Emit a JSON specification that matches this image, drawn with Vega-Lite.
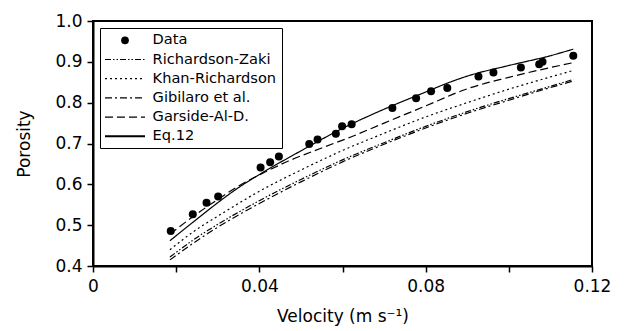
{
  "$schema": "https://vega.github.io/schema/vega-lite/v6.json",
  "width": 499,
  "height": 245,
  "autosize": "none",
  "padding": {"left": 93, "top": 21, "right": 34, "bottom": 65},
  "background": "white",
  "config": {
    "view": {"stroke": "black", "strokeWidth": 2},
    "font": "DejaVu Sans",
    "axis": {
      "domainColor": "black", "domainWidth": 2, "tickColor": "black", "tickWidth": 1.5, "tickSize": 6,
      "grid": false, "labelColor": "black", "labelFont": "DejaVu Sans", "labelFontSize": 17,
      "titleFont": "DejaVu Sans", "titleFontSize": 17, "titleFontWeight": "normal", "titleColor": "black"
    },
    "legend": {"labelFont": "DejaVu Sans"}
  },
  "datasets": {
    "points": [
      {"velocity": 0.0187, "porosity": 0.486},
      {"velocity": 0.0240, "porosity": 0.527},
      {"velocity": 0.0273, "porosity": 0.555},
      {"velocity": 0.0301, "porosity": 0.570},
      {"velocity": 0.0403, "porosity": 0.641},
      {"velocity": 0.0426, "porosity": 0.654},
      {"velocity": 0.0447, "porosity": 0.668},
      {"velocity": 0.0520, "porosity": 0.699},
      {"velocity": 0.0540, "porosity": 0.710},
      {"velocity": 0.0584, "porosity": 0.724},
      {"velocity": 0.0599, "porosity": 0.742},
      {"velocity": 0.0622, "porosity": 0.747},
      {"velocity": 0.0720, "porosity": 0.787},
      {"velocity": 0.0777, "porosity": 0.811},
      {"velocity": 0.0813, "porosity": 0.828},
      {"velocity": 0.0852, "porosity": 0.836},
      {"velocity": 0.0927, "porosity": 0.864},
      {"velocity": 0.0963, "porosity": 0.874},
      {"velocity": 0.1029, "porosity": 0.886},
      {"velocity": 0.1073, "porosity": 0.894},
      {"velocity": 0.1081, "porosity": 0.900},
      {"velocity": 0.1155, "porosity": 0.915}
    ],
    "curves": [
      {"series": "Eq.12", "velocity": 0.0185, "porosity": 0.462},
      {"series": "Eq.12", "velocity": 0.025, "porosity": 0.515},
      {"series": "Eq.12", "velocity": 0.03, "porosity": 0.555},
      {"series": "Eq.12", "velocity": 0.035, "porosity": 0.592},
      {"series": "Eq.12", "velocity": 0.04, "porosity": 0.624},
      {"series": "Eq.12", "velocity": 0.05, "porosity": 0.682},
      {"series": "Eq.12", "velocity": 0.06, "porosity": 0.737},
      {"series": "Eq.12", "velocity": 0.07, "porosity": 0.784},
      {"series": "Eq.12", "velocity": 0.08, "porosity": 0.826},
      {"series": "Eq.12", "velocity": 0.085, "porosity": 0.847},
      {"series": "Eq.12", "velocity": 0.09, "porosity": 0.865},
      {"series": "Eq.12", "velocity": 0.10, "porosity": 0.891},
      {"series": "Eq.12", "velocity": 0.11, "porosity": 0.915},
      {"series": "Eq.12", "velocity": 0.1155, "porosity": 0.931},
      {"series": "Garside-Al-D.", "velocity": 0.0185, "porosity": 0.478},
      {"series": "Garside-Al-D.", "velocity": 0.025, "porosity": 0.528},
      {"series": "Garside-Al-D.", "velocity": 0.03, "porosity": 0.563},
      {"series": "Garside-Al-D.", "velocity": 0.035, "porosity": 0.596},
      {"series": "Garside-Al-D.", "velocity": 0.04, "porosity": 0.623},
      {"series": "Garside-Al-D.", "velocity": 0.047, "porosity": 0.657},
      {"series": "Garside-Al-D.", "velocity": 0.055, "porosity": 0.689},
      {"series": "Garside-Al-D.", "velocity": 0.062, "porosity": 0.716},
      {"series": "Garside-Al-D.", "velocity": 0.07, "porosity": 0.750},
      {"series": "Garside-Al-D.", "velocity": 0.08, "porosity": 0.792},
      {"series": "Garside-Al-D.", "velocity": 0.09, "porosity": 0.834},
      {"series": "Garside-Al-D.", "velocity": 0.10, "porosity": 0.862},
      {"series": "Garside-Al-D.", "velocity": 0.11, "porosity": 0.886},
      {"series": "Garside-Al-D.", "velocity": 0.1155, "porosity": 0.898},
      {"series": "Khan-Richardson", "velocity": 0.0185, "porosity": 0.440},
      {"series": "Khan-Richardson", "velocity": 0.025, "porosity": 0.490},
      {"series": "Khan-Richardson", "velocity": 0.03, "porosity": 0.522},
      {"series": "Khan-Richardson", "velocity": 0.04, "porosity": 0.583},
      {"series": "Khan-Richardson", "velocity": 0.05, "porosity": 0.635},
      {"series": "Khan-Richardson", "velocity": 0.06, "porosity": 0.683},
      {"series": "Khan-Richardson", "velocity": 0.07, "porosity": 0.725},
      {"series": "Khan-Richardson", "velocity": 0.08, "porosity": 0.765},
      {"series": "Khan-Richardson", "velocity": 0.09, "porosity": 0.800},
      {"series": "Khan-Richardson", "velocity": 0.10, "porosity": 0.833},
      {"series": "Khan-Richardson", "velocity": 0.11, "porosity": 0.863},
      {"series": "Khan-Richardson", "velocity": 0.1155, "porosity": 0.879},
      {"series": "Richardson-Zaki", "velocity": 0.0185, "porosity": 0.422},
      {"series": "Richardson-Zaki", "velocity": 0.025, "porosity": 0.470},
      {"series": "Richardson-Zaki", "velocity": 0.03, "porosity": 0.502},
      {"series": "Richardson-Zaki", "velocity": 0.04, "porosity": 0.560},
      {"series": "Richardson-Zaki", "velocity": 0.05, "porosity": 0.612},
      {"series": "Richardson-Zaki", "velocity": 0.06, "porosity": 0.660},
      {"series": "Richardson-Zaki", "velocity": 0.07, "porosity": 0.702},
      {"series": "Richardson-Zaki", "velocity": 0.08, "porosity": 0.742},
      {"series": "Richardson-Zaki", "velocity": 0.09, "porosity": 0.778},
      {"series": "Richardson-Zaki", "velocity": 0.10, "porosity": 0.810},
      {"series": "Richardson-Zaki", "velocity": 0.11, "porosity": 0.840},
      {"series": "Richardson-Zaki", "velocity": 0.1155, "porosity": 0.857},
      {"series": "Gibilaro et al.", "velocity": 0.0185, "porosity": 0.415},
      {"series": "Gibilaro et al.", "velocity": 0.025, "porosity": 0.462},
      {"series": "Gibilaro et al.", "velocity": 0.03, "porosity": 0.495},
      {"series": "Gibilaro et al.", "velocity": 0.04, "porosity": 0.553},
      {"series": "Gibilaro et al.", "velocity": 0.05, "porosity": 0.606},
      {"series": "Gibilaro et al.", "velocity": 0.06, "porosity": 0.655},
      {"series": "Gibilaro et al.", "velocity": 0.07, "porosity": 0.698},
      {"series": "Gibilaro et al.", "velocity": 0.08, "porosity": 0.738},
      {"series": "Gibilaro et al.", "velocity": 0.09, "porosity": 0.774},
      {"series": "Gibilaro et al.", "velocity": 0.10, "porosity": 0.806},
      {"series": "Gibilaro et al.", "velocity": 0.11, "porosity": 0.837},
      {"series": "Gibilaro et al.", "velocity": 0.1155, "porosity": 0.853}
    ]
  },
  "layer": [
    {
      "data": {"name": "curves"},
      "mark": {"type": "line", "color": "black", "interpolate": "monotone", "strokeWidth": 1.2},
      "encoding": {
        "x": {
          "field": "velocity", "type": "quantitative",
          "scale": {"domain": [0, 0.12], "nice": false, "zero": false},
          "axis": {
            "title": "Velocity (m s⁻¹)",
            "values": [0, 0.02, 0.04, 0.06, 0.08, 0.1, 0.12],
            "labelExpr": "datum.value == 0 ? '0' : (abs(datum.value / 0.04 - round(datum.value / 0.04)) < 0.001 ? format(datum.value, '.2f') : '')",
            "labelFlush": false, "labelPadding": 6, "titlePadding": 14
          }
        },
        "y": {
          "field": "porosity", "type": "quantitative",
          "scale": {"domain": [0.4, 1.0], "nice": false, "zero": false},
          "axis": {
            "title": "Porosity",
            "values": [0.4, 0.5, 0.6, 0.7, 0.8, 0.9, 1.0],
            "format": ".1f", "labelPadding": 5, "titlePadding": 21
          }
        },
        "detail": {"field": "series"},
        "strokeWidth": {
          "condition": {"test": "datum.series === 'Eq.12'", "value": 2},
          "value": 1.2
        },
        "strokeDash": {
          "field": "series", "type": "nominal",
          "scale": {
            "domain": ["Data", "Richardson-Zaki", "Khan-Richardson", "Gibilaro et al.", "Garside-Al-D.", "Eq.12"],
            "range": [[1, 0], [6, 2, 1.5, 2, 1.5, 2], [2, 3], [7, 3, 2, 3], [8, 4], [1, 0]]
          },
          "legend": {
            "title": null,
            "orient": "top-left",
            "offset": 7,
            "strokeColor": "black",
            "padding": 5,
            "symbolType": "stroke",
            "symbolSize": 1600,
            "symbolStrokeColor": "black",
            "symbolStrokeWidth": 1.2,
            "labelFontSize": 14.6,
            "labelColor": "black",
            "labelOffset": 33,
            "rowPadding": 4.2,
            "encode": {
              "symbols": {
                "update": {
                  "x": {"value": 20},
                  "shape": {"signal": "datum.value === 'Data' ? 'circle' : 'stroke'"},
                  "size": {"signal": "datum.value === 'Data' ? 60 : 1600"},
                  "fill": {"signal": "datum.value === 'Data' ? 'black' : 'transparent'"},
                  "stroke": {"value": "black"},
                  "strokeWidth": {"signal": "datum.value === 'Data' ? 0 : (datum.value === 'Eq.12' ? 2 : 1.2)"}
                }
              }
            }
          }
        }
      }
    },
    {
      "data": {"name": "points"},
      "mark": {"type": "point", "filled": true, "color": "black", "size": 64, "opacity": 1},
      "encoding": {
        "x": {"field": "velocity", "type": "quantitative"},
        "y": {"field": "porosity", "type": "quantitative"}
      }
    }
  ]
}
